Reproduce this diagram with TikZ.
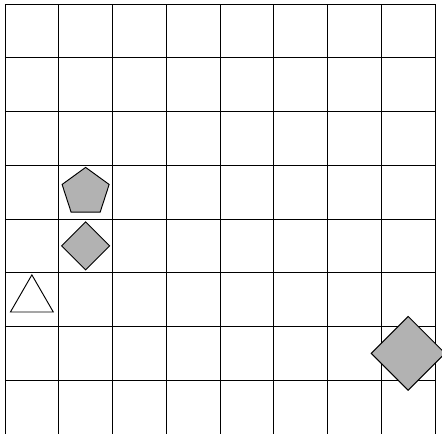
\documentclass[tikz,border=0pt]{standalone}
\usetikzlibrary{shapes.geometric}
\tikzset{
  gridline/.style={draw=black, line width=0.5pt},
  shp/.style={draw=black, line width=0.5pt, fill=black!30, inner sep=0pt},
  pent/.style={shp, regular polygon, regular polygon sides=5, minimum size=0.92cm},
  tri/.style={draw=black, line width=0.5pt, fill=white, inner sep=0pt, regular polygon, regular polygon sides=3, minimum size=0.92cm},
  dia/.style={shp, diamond, minimum width=0.9cm, minimum height=0.9cm},
  bigdia/.style={shp, diamond, minimum width=1.38cm, minimum height=1.38cm}
}
\begin{document}
\begin{tikzpicture}
\useasboundingbox (-0.093,0.018) rectangle (8.13,8.074);
\fill[white] (-0.093,0.018) rectangle (8.13,8.074);
\draw[gridline] (0,0) grid (8,8);
\node[pent] (pentagon) at (1.5,4.5) {};
\node[dia] (smalldiamond) at (1.5,3.5) {};
\node[tri] (triangle) at (0.5,2.5) {};
\node[bigdia] (bigdiamond) at (7.5,1.5) {};
\end{tikzpicture}
\end{document}
